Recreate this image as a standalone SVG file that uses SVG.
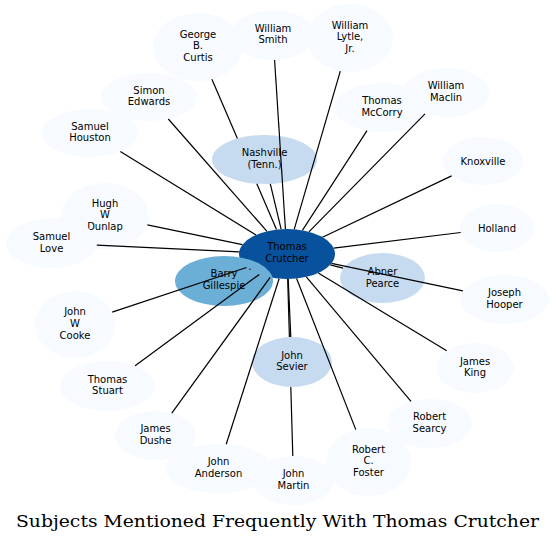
<svg xmlns="http://www.w3.org/2000/svg" width="556" height="542" viewBox="0 0 556 542">
<style>
  .n text { font-family: "DejaVu Sans", "Liberation Sans", sans-serif; font-size: 10px; text-anchor: middle; fill: #000; }
  .l0 { fill: #f7fbff; }
  .l1 { fill: #c6dbef; }
  .l2 { fill: #6baed6; }
  .l3 { fill: #08519c; }
  #edges path { stroke: #000; stroke-width: 1.2; fill: none; }
  .title { font-family: "DejaVu Serif", "Liberation Serif", serif; font-size: 17px; fill: #000; }
</style>
<rect width="556" height="542" fill="#fff"/>
<g id="nodes">
  <g id="n-george-curtis" class="n"><ellipse class="l0" cx="198" cy="47" rx="45" ry="34"/><text x="198" y="37.5">George</text><text x="198" y="49.3">B.</text><text x="198" y="61.1">Curtis</text></g>
  <g id="n-william-smith" class="n"><ellipse class="l0" cx="273" cy="35" rx="42" ry="25"/><text x="273" y="31.5">William</text><text x="273" y="43.3">Smith</text></g>
  <g id="n-william-lytle" class="n"><ellipse class="l0" cx="350" cy="38" rx="43" ry="34"/><text x="350" y="28.5">William</text><text x="350" y="40.3">Lytle,</text><text x="350" y="52.1">Jr.</text></g>
  <g id="n-simon-edwards" class="n"><ellipse class="l0" cx="149" cy="97" rx="48" ry="24"/><text x="149" y="93.5">Simon</text><text x="149" y="105.3">Edwards</text></g>
  <g id="n-thomas-mccorry" class="n"><ellipse class="l0" cx="382" cy="107.5" rx="47" ry="24.5"/><text x="382" y="104.3">Thomas</text><text x="382" y="116">McCorry</text></g>
  <g id="n-william-maclin" class="n"><ellipse class="l0" cx="446" cy="92.5" rx="43" ry="24.5"/><text x="446" y="89">William</text><text x="446" y="100.8">Maclin</text></g>
  <g id="n-samuel-houston" class="n"><ellipse class="l0" cx="90" cy="133" rx="48" ry="24"/><text x="90" y="129.5">Samuel</text><text x="90" y="141.3">Houston</text></g>
  <g id="n-knoxville" class="n"><ellipse class="l0" cx="483" cy="161" rx="40" ry="24"/><text x="483" y="164.5">Knoxville</text></g>
  <g id="n-hugh-dunlap" class="n"><ellipse class="l0" cx="105" cy="216" rx="44" ry="33"/><text x="105" y="206.5">Hugh</text><text x="105" y="218.3">W</text><text x="105" y="230.3">Dunlap</text></g>
  <g id="n-samuel-love" class="n"><ellipse class="l0" cx="51.5" cy="243" rx="45.5" ry="25"/><text x="51.5" y="240">Samuel</text><text x="51.5" y="251.5">Love</text></g>
  <g id="n-holland" class="n"><ellipse class="l0" cx="497" cy="228" rx="37" ry="24"/><text x="497" y="231.5">Holland</text></g>
  <g id="n-joseph-hooper" class="n"><ellipse class="l0" cx="504.5" cy="299.5" rx="44.5" ry="24.5"/><text x="504.5" y="296">Joseph</text><text x="504.5" y="307.8">Hooper</text></g>
  <g id="n-john-cooke" class="n"><ellipse class="l0" cx="75" cy="324.5" rx="40" ry="33.5"/><text x="75" y="315.3">John</text><text x="75" y="326.8">W</text><text x="75" y="338.6">Cooke</text></g>
  <g id="n-thomas-stuart" class="n"><ellipse class="l0" cx="107.5" cy="386" rx="47.5" ry="25"/><text x="107.5" y="382.5">Thomas</text><text x="107.5" y="394.3">Stuart</text></g>
  <g id="n-james-king" class="n"><ellipse class="l0" cx="475" cy="368" rx="39" ry="25"/><text x="475" y="364.5">James</text><text x="475" y="376.3">King</text></g>
  <g id="n-james-dushe" class="n"><ellipse class="l0" cx="155.5" cy="435.5" rx="40.5" ry="24.5"/><text x="155.5" y="432">James</text><text x="155.5" y="443.8">Dushe</text></g>
  <g id="n-robert-searcy" class="n"><ellipse class="l0" cx="429.5" cy="423.5" rx="42.5" ry="24.5"/><text x="429.5" y="420">Robert</text><text x="429.5" y="431.8">Searcy</text></g>
  <g id="n-john-anderson" class="n"><ellipse class="l0" cx="218.5" cy="468.5" rx="53" ry="24.5"/><text x="218.5" y="465.2">John</text><text x="218.5" y="477">Anderson</text></g>
  <g id="n-robert-foster" class="n"><ellipse class="l0" cx="368.5" cy="462" rx="42.5" ry="34"/><text x="368.5" y="452.5">Robert</text><text x="368.5" y="464.3">C.</text><text x="368.5" y="476.1">Foster</text></g>
  <g id="n-john-martin" class="n"><ellipse class="l0" cx="293.5" cy="480.5" rx="40.5" ry="24.5"/><text x="293.5" y="477.2">John</text><text x="293.5" y="489">Martin</text></g>
  <g id="n-nashville" class="n"><ellipse class="l1" cx="264.5" cy="159.5" rx="52.5" ry="24.5"/><text x="264.5" y="156.3">Nashville</text><text x="264.5" y="168.1">(Tenn.)</text></g>
  <g id="n-abner-pearce" class="n"><ellipse class="l1" cx="382.5" cy="278" rx="42.5" ry="25"/><text x="382.5" y="275">Abner</text><text x="382.5" y="286.5">Pearce</text></g>
  <g id="n-john-sevier" class="n"><ellipse class="l1" cx="292" cy="362" rx="40" ry="25"/><text x="292" y="358.5">John</text><text x="292" y="370.3">Sevier</text></g>
  <g id="n-thomas-crutcher" class="n"><ellipse class="l3" cx="287" cy="254" rx="48" ry="25"/><text x="287" y="250.3">Thomas</text><text x="287" y="262.3">Crutcher</text></g>
  <g id="n-barry-gillespie" class="n"><ellipse class="l2" cx="224" cy="281" rx="49" ry="25"/><text x="224" y="277">Barry</text><text x="224" y="288.8">Gillespie</text></g>
</g>
<g id="edges">
  <path d="M211.9,79.3 L237.4,138.5 M256.8,183.7 L276.5,229.6"/>
  <path d="M285.4,229 L274.6,60"/>
  <path d="M294.2,229.3 L340.3,71.1"/>
  <path d="M267,231.3 L168.3,119"/>
  <path d="M302.4,230.3 L367,130.7"/>
  <path d="M308.9,231.8 L425,113.9"/>
  <path d="M256,234.9 L120.3,151.6"/>
  <path d="M281.1,229.2 L270.3,183.9"/>
  <path d="M322.5,237.2 L451.6,175.9"/>
  <path d="M242.4,244.7 L147.4,224.9"/>
  <path d="M239.2,251.8 L96.8,245.1"/>
  <path d="M333.7,248.2 L460.7,232.5"/>
  <path d="M249.4,269.5 L250.6,269"/>
  <path d="M330.2,264.9 L343.1,268.2"/>
  <path d="M331.5,263.3 L462.9,290.8"/>
  <path d="M246.5,267.5 L112.2,312.1"/>
  <path d="M259.3,274.4 L135.1,365.7"/>
  <path d="M288.2,279 L290.8,337"/>
  <path d="M318.3,273 L446.7,350.8"/>
  <path d="M270.1,277.4 L171.8,413.1"/>
  <path d="M306.3,276.9 L411,401.4"/>
  <path d="M279.1,278.7 L226.2,444.3"/>
  <path d="M296.6,278.5 L355.8,429.6"/>
  <path d="M287.7,279 L289.4,337 M290.8,387 L292.8,456"/>
</g>
<text class="title" x="16" y="527" textLength="523" lengthAdjust="spacingAndGlyphs">Subjects Mentioned Frequently With Thomas Crutcher</text>
</svg>
